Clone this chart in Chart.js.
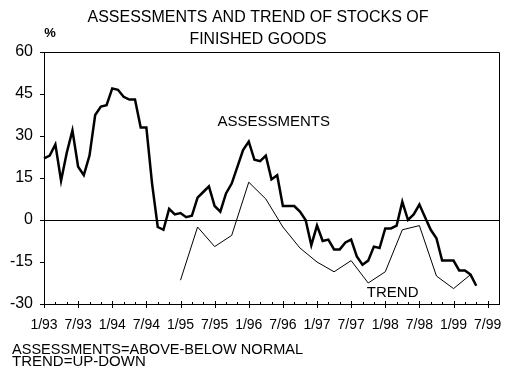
<!DOCTYPE html>
<html>
<head>
<meta charset="utf-8">
<script src="https://cdn.jsdelivr.net/npm/chart.js@4.4.0/dist/chart.umd.min.js"></script>
<style>
  html, body { margin: 0; padding: 0; background: #fff; }
  #ctx { display: block; }
</style>
</head>
<body>
<canvas id="ctx" width="520" height="373"></canvas>
<script>
const titleLines = ['ASSESSMENTS AND TREND OF STOCKS OF', 'FINISHED GOODS'];
const footLines = ['ASSESSMENTS=ABOVE-BELOW NORMAL', 'TREND=UP-DOWN'];
const tickLabels = ['1/93','7/93','1/94','7/94','1/95','7/95','1/96','7/96','1/97','7/97','1/98','7/98','1/99','7/99'];

// monthly, starting 1/93
const assessments = [
  22, 23, 27, 14, 24, 32, 19, 16, 23, 37.5, 40.5, 41,
  47, 46.5, 44, 43, 43, 33, 33, 13, -2.5, -3.5, 4, 2,
  2.5, 1, 1.5, 8, 10, 12, 5, 3, 9.5, 13, 19, 25,
  28, 21.5, 21, 23, 14.5, 16, 5, 5, 5, 3, 0, -9,
  -2, -7.5, -7, -10.5, -10.5, -8, -7, -13, -16, -14.5, -9.5, -10,
  -3, -3, -2, 6.5, 0, 2, 5.5, 1, -3.5, -6.5, -14.5, -14.5,
  -14.5, -18, -18, -19.5, -23.5
];

// quarterly, starting 1/95
const trendStart = 24;
const trendStep = 3;
const trend = [-21.5, -2.5, -9.5, -5.5, 13.5, 7.5, -2.5, -10, -15, -18.5, -14.5, -22.5, -18.5, -3.5, -2, -20, -24.5, -19.5];

const monthCount = 81; // 1/93 .. 9/99
let months = [];
for (let i = 0; i < monthCount; i++) {
  months.push(((i % 12) + 1) + '/' + (93 + Math.floor(i / 12)) % 100);
}
let trendData = new Array(monthCount).fill(null);
trend.forEach((v, i) => { trendData[trendStart + i * trendStep] = v; });

const FONT = '"Liberation Sans", Arial, sans-serif';
Chart.defaults.font.family = FONT;
Chart.defaults.font.size = 14;
Chart.defaults.color = '#000';

const frame = {
  id: 'frame',
  afterDraw(chart) {
    const c = chart.ctx, a = chart.chartArea, x = chart.scales.x, y = chart.scales.y;
    c.save();
    c.strokeStyle = '#000';
    c.lineWidth = 1;
    c.beginPath();
    c.moveTo(a.left, a.top + 0.5);
    c.lineTo(a.right + 0.5, a.top + 0.5);
    c.lineTo(a.right + 0.5, a.bottom);
    c.stroke();
    // x ticks: every 2 months, long ones every 6
    for (let i = 0; i < monthCount; i += 2) {
      const px = Math.round(x.getPixelForValue(i)) + 0.5;
      c.beginPath();
      if (i % 6 === 0) { c.moveTo(px, a.bottom - 3); c.lineTo(px, a.bottom + 4); }
      else { c.moveTo(px, a.bottom - 2); c.lineTo(px, a.bottom); }
      c.stroke();
    }
    c.fillStyle = '#000';
    c.font = '16px ' + FONT;
    c.textAlign = 'center';
    c.textBaseline = 'middle';
    c.fillText(titleLines[0], 258, 18, 342);
    c.fillText(titleLines[1], 258, 40, 137);
    c.font = '15px ' + FONT;
    c.fillText('ASSESSMENTS', x.getPixelForValue(40.4), y.getPixelForValue(35), 113);
    c.fillText('TREND', x.getPixelForValue(61.3), y.getPixelForValue(-26), 52);
    c.font = 'bold 13px ' + FONT;
    c.fillText('%', 50, 33);
    c.font = '15px ' + FONT;
    c.textAlign = 'left';
    c.fillText(footLines[0], 12, 350, 291);
    c.fillText(footLines[1], 12, 362, 136);
    c.restore();
  }
};

new Chart(document.getElementById('ctx'), {
  type: 'line',
  data: {
    labels: months,
    datasets: [{
      label: 'ASSESSMENTS',
      data: assessments,
      borderColor: '#000',
      borderWidth: 2.5,
      pointRadius: 0,
      tension: 0
    }, {
      label: 'TREND',
      data: trendData,
      borderColor: '#000',
      borderWidth: 1,
      pointRadius: 0,
      spanGaps: true,
      tension: 0
    }]
  },
  options: {
    responsive: false,
    animation: false,
    devicePixelRatio: 1,
    layout: { padding: { left: 0, top: 52, right: 21, bottom: 0 } },
    plugins: { legend: { display: false }, tooltip: { enabled: false } },
    scales: {
      x: {
        offset: false,
        afterFit(scale) { scale.height = 69; },
        grid: { display: false, drawTicks: false },
        border: { display: true, color: '#000', width: 1 },
        ticks: {
          autoSkip: false,
          maxRotation: 0,
          padding: 13,
          callback: (v, i) => tickLabels.includes(months[i]) ? months[i] : ''
        }
      },
      y: {
        min: -30,
        max: 60,
        afterFit(scale) { scale.width = 44; },
        grid: {
          color: (ctx) => ctx.tick && ctx.tick.value === 0 ? '#000' : 'rgba(0,0,0,0)',
          tickColor: '#000',
          tickLength: 4
        },
        border: { display: true, color: '#000', width: 1 },
        ticks: { stepSize: 15, padding: 7, font: { size: 16 } }
      }
    }
  },
  plugins: [frame]
});
</script>
</body>
</html>
